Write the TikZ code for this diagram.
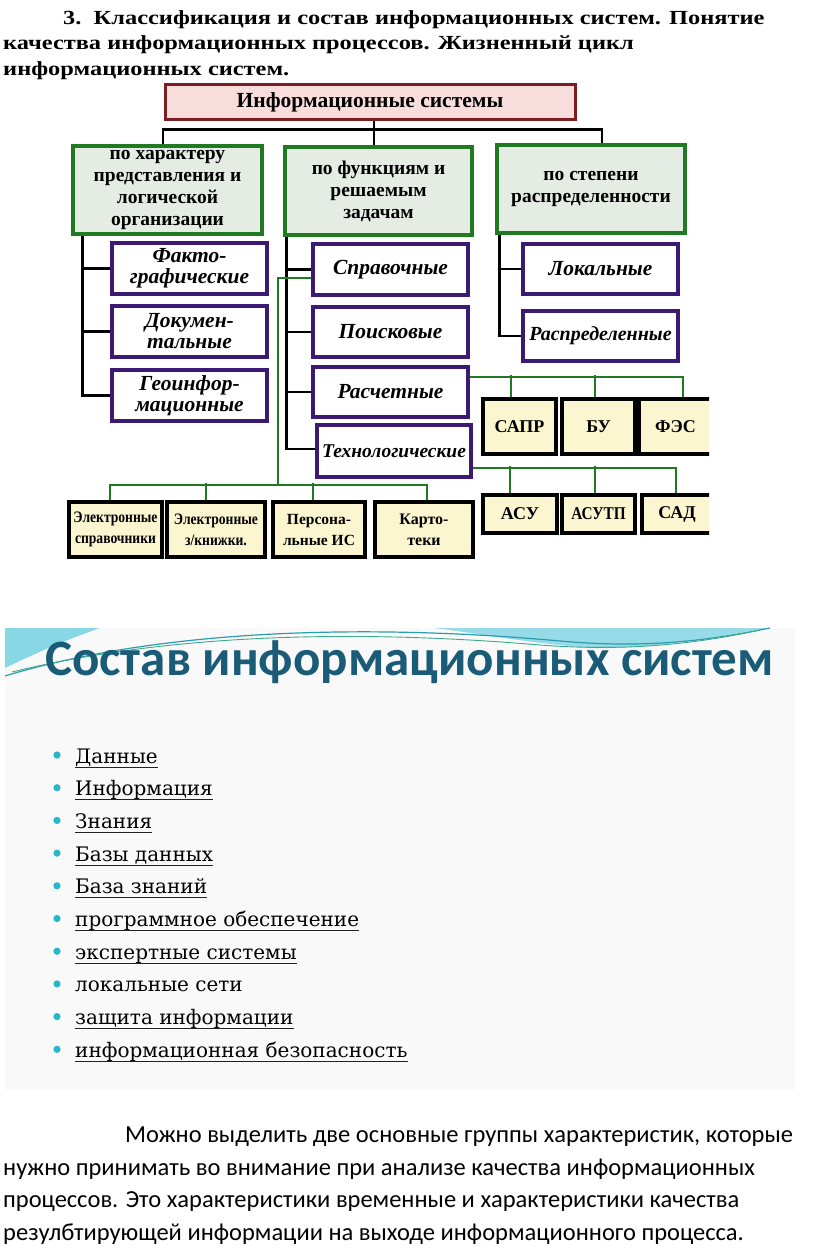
\documentclass[tikz,border=0pt]{standalone}
\usepackage{fontspec}
\setmainfont{Liberation Serif}
\newfontfamily\carl{Carlito}
\newfontfamily\lstf{DejaVu Serif}
\usetikzlibrary{calc}
\definecolor{topred}{HTML}{7A1E22}
\definecolor{toppink}{HTML}{F9DCDC}
\definecolor{grpgreen}{HTML}{1F7A22}
\definecolor{grpfill}{HTML}{E4ECE4}
\definecolor{subpurple}{HTML}{3C1A73}
\definecolor{leafyellow}{HTML}{FBF6CF}
\definecolor{slidebg}{HTML}{F9F9F9}
\definecolor{slidetitle}{HTML}{1A5C78}
\definecolor{bul}{HTML}{26B7CB}
\definecolor{wave}{HTML}{6CCFE0}
\definecolor{wavedark}{HTML}{2A9DB0}
\definecolor{wavegreen}{HTML}{3DAA8C}
\definecolor{ulgrey}{HTML}{222222}
\newcommand{\hwide}[1]{\scalebox{1.22}[1]{#1}}
\newcommand{\hnarrow}[1]{\scalebox{0.85}[1]{#1}}
\tikzset{
  hd/.style={anchor=base west, inner sep=0pt, font=\bfseries\fontsize{20}{24}\selectfont},
  topbox/.style={draw=topred, fill=toppink, line width=3pt, inner sep=0pt, font=\bfseries\fontsize{21.5}{24}\selectfont},
  grp/.style={draw=grpgreen, fill=grpfill, line width=3.5pt, align=center, inner sep=0pt, font=\bfseries\fontsize{19.5}{22}\selectfont},
  sub/.style={draw=subpurple, fill=white, line width=3.5pt, align=center, inner sep=0pt, font=\bfseries\itshape\fontsize{21.5}{21}\selectfont},
  leaf/.style={draw=black, fill=leafyellow, line width=3.5pt, align=center, inner sep=0pt, font=\bfseries\fontsize{16}{21}\selectfont},
  caps/.style={leaf, font=\bfseries\fontsize{18}{20}\selectfont},
  blk/.style={line width=2.8pt, black},
  gln/.style={line width=2pt, grpgreen},
  item/.style={anchor=base west, inner sep=0pt, font=\lstf\fontsize{20}{24}\selectfont, text=black},
  uln/.style={line width=1pt, ulgrey},
  bulletdot/.style={fill=bul, draw=none},
  para/.style={anchor=base west, inner sep=0pt, font=\carl\fontsize{24.5}{28}\selectfont},
}
\begin{document}
\begin{tikzpicture}[x=1pt,y=-1pt]
\useasboundingbox (0,0) rectangle (816,1257);
\fill[white] (0,0) rectangle (816,1257);

% heading
\node[hd] (h1) at (63,25) {\hwide{3.\ \ Классификация и состав информационных систем. Понятие}};
\node[hd] (h2) at (3,50) {\hwide{качества информационных процессов. Жизненный цикл}};
\node[hd] (h3) at (3,76) {\hwide{информационных систем.}};

% top level
\node[topbox, minimum width=410, minimum height=35] (top) at (370,102.5) {Информационные системы};

\node[grp, minimum width=189, minimum height=88] (g1) at (167.5,190) {по характеру\\представления и\\логической\\организации};
\node[grp, minimum width=187, minimum height=88] (g2) at (378.5,191) {по функциям и\\решаемым\\задачам};
\node[grp, minimum width=188, minimum height=88] (g3) at (591,189) {по степени\\распределенности};

\draw[blk] ([xshift=4pt]top.south) -- ([xshift=-4.5pt]g2.north);
\draw[blk] ([xshift=-4.5pt]g1.north) -- ++(0,-15) -| ([xshift=11pt]g3.north);

% column 1
\node[sub, minimum width=155, minimum height=51] (f1) at (189.5,268.5) {Факто-\\графические};
\node[sub, minimum width=155, minimum height=51] (f2) at (189.5,331.5) {Докумен-\\тальные};
\node[sub, minimum width=155, minimum height=51] (f3) at (189.5,395.5) {Геоинфор-\\мационные};
\draw[blk] ([xshift=11pt]g1.south west) |- (f3.west);
\draw[blk] ([xshift=11pt]g1.south west |- f1.west) -- (f1.west);
\draw[blk] ([xshift=11pt]g1.south west |- f2.west) -- (f2.west);

% column 2
\node[sub, minimum width=155, minimum height=51] (s1) at (390.5,269.5) {Справочные};
\node[sub, minimum width=155, minimum height=50] (s2) at (390.5,332) {Поисковые};
\node[sub, minimum width=155, minimum height=50] (s3) at (390.5,392) {Расчетные};
\node[sub, minimum width=154, minimum height=52, font=\bfseries\itshape\fontsize{19.5}{21}\selectfont] (s4) at (394,451) {Технологические};
\draw[blk] ([xshift=3pt]g2.south west) |- ([yshift=2pt]s4.west);
\draw[blk] ([xshift=3pt]g2.south west |- s1.west) -- (s1.west);
\draw[blk] ([xshift=3pt]g2.south west |- s2.west) -- (s2.west);
\draw[blk] ([xshift=3pt]g2.south west |- s3.west) -- (s3.west);

% column 3
\node[sub, minimum width=155, minimum height=50] (d1) at (600.5,269) {Локальные};
\node[sub, minimum width=155, minimum height=50, font=\bfseries\itshape\fontsize{20}{21}\selectfont] (d2) at (600.5,336) {Распределенные};
\draw[blk] ([xshift=4pt]g3.south west) |- (d2.west);
\draw[blk] ([xshift=4pt]g3.south west |- d1.west) -- (d1.west);

% bottom leaves
\node[leaf, minimum width=93, minimum height=55] (e1) at (115.5,529.5) {\hnarrow{Электронные}\\\hnarrow{справочники}};
\node[leaf, minimum width=98, minimum height=55] (e2) at (216,529.5) {\hnarrow{Электронные}\\\hnarrow{з/книжки.}};
\node[leaf, minimum width=92, minimum height=55, font=\bfseries\fontsize{15.5}{21}\selectfont] (e3) at (319,529.5) {Персона-\\льные ИС};
\node[leaf, minimum width=98, minimum height=55] (e4) at (424,529.5) {Карто-\\теки};
\coordinate (gb) at (278,485);
\draw[gln] ([yshift=-8pt]s1.west) -| (gb);
\draw[gln] ([xshift=-5.5pt]e1.north) |- (gb) -| ([xshift=3pt]e4.north);
\draw[gln] ([xshift=-10pt]e2.north) -- ++(0,-17);
\draw[gln] ([xshift=-6pt]e3.north) -- ++(0,-17);

% right leaves
\begin{scope}
\clip (0,0) rectangle (709,1257);
\node[caps, minimum width=73, minimum height=55] (r1) at (519.5,426.5) {САПР};
\node[caps, minimum width=73, minimum height=55] (r2) at (598.5,426.5) {БУ};
\node[caps, minimum width=73, minimum height=55] (r3) at (675.5,426.5) {ФЭС};
\node[caps, minimum width=74, minimum height=38] (t1) at (520,514) {АСУ};
\node[caps, minimum width=73, minimum height=38] (t2) at (598.5,514) {\hnarrow{АСУТП}};
\node[caps, minimum width=70, minimum height=38] (t3) at (677,514) {САД};
\end{scope}
\draw[gln] ([yshift=15pt]s3.east) -| ([xshift=7.5pt]r3.north);
\draw[gln] ([xshift=-8.5pt]r1.north) -- ++(0,-22);
\draw[gln] ([xshift=-3.5pt]r2.north) -- ++(0,-22);
\draw[gln] ([yshift=-17pt]s4.east) -| ([xshift=-1pt]t3.north);
\draw[gln] ([xshift=-10pt]t1.north) -- ++(0,-27);
\draw[gln] ([xshift=-3.5pt]t2.north) -- ++(0,-27);

% slide
\fill[slidebg] (5,628) rectangle (795,1090);
\fill[wave, opacity=0.8] (5,628) -- (100,628) .. controls (60,642) and (30,656) .. (5,668) -- cycle;
\fill[wave, opacity=0.7] (433,628) -- (767,628) .. controls (700,640) and (650,649) .. (590,648) .. controls (520,642) and (470,632) .. (433,628) -- cycle;
\draw[wavedark, line width=1.2pt] (5,676) .. controls (150,632) and (350,622) .. (560,641) .. controls (650,649) and (710,640) .. (770,628);
\draw[wavegreen, line width=0.9pt] (12,672) .. controls (160,636) and (340,628) .. (540,645) .. controls (630,652) and (700,643) .. (760,630);
\node[anchor=base west, inner sep=0pt, text=slidetitle, font=\carl\bfseries\fontsize{51}{55}\selectfont] (st) at (45,675) {Состав информационных систем};

% list
\foreach \n/\t/\u [count=\i from 0] in {a/Данные/1, b/Информация/1, c/Знания/1, d/Базы данных/1, e/База знаний/1, f/программное обеспечение/1, g/экспертные системы/1, h/локальные сети/0, k/защита информации/1, m/информационная безопасность/1}{
  \node[item] (li\n) at (75,{763+32.7*\i}) {\t};
  \fill[bulletdot] (57,{755+32.7*\i}) circle (3.6);
  \ifnum\u=1 \draw[uln] ([yshift=-4pt]li\n.base west) -- ([yshift=-4pt]li\n.base east); \fi
}

% paragraph
\node[para] (p1) at (125,1142) {Можно выделить две основные группы характеристик, которые};
\node[para] (p2) at (3,1175) {нужно принимать во внимание при анализе качества информационных};
\node[para] (p3) at (3,1207) {процессов. Это характеристики временные и характеристики качества};
\node[para] (p4) at (3,1240) {резулбтирующей информации на выходе информационного процесса.};
\end{tikzpicture}
\end{document}
